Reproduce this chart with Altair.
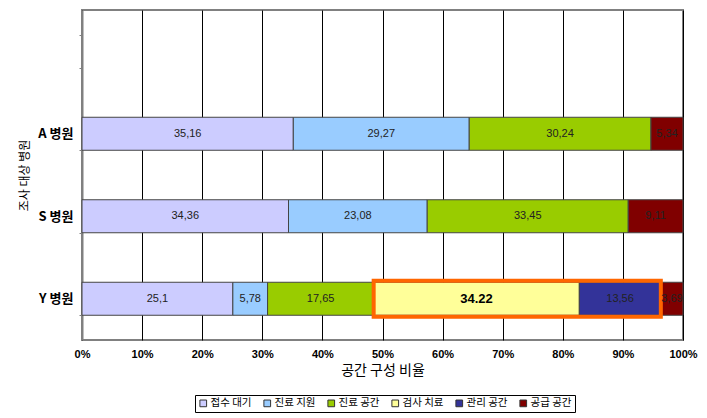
import altair as alt
import pandas as pd

hospitals = ["A 병원", "S 병원", "Y 병원"]
categories = ["접수 대기", "진료 지원", "진료 공간", "검사 치료", "관리 공간", "공급 공간"]
colors = ["#CCCCFF", "#99CCFF", "#99CC00", "#FFFF99", "#333399", "#800000"]

a_values = [35.16, 29.27, 30.24, 0, 0, 5.34]
s_values = [34.36, 23.08, 33.45, 0, 0, 9.11]
y_values = [25.1, 5.78, 17.65, 34.22, 13.56, 3.69]

highlight_hospital = "Y 병원"
highlight_cats = ["검사 치료", "관리 공간"]

rows = []
for h, vals in zip(hospitals, [a_values, s_values, y_values]):
    for i, (c, v) in enumerate(zip(categories, vals)):
        if v <= 0:
            continue
        hl = (h == highlight_hospital and c == "검사 치료")
        label = f"{v:g}" if hl else f"{v:g}".replace(".", ",")
        rows.append({"hospital": h, "cat": c, "order": i, "value": v,
                     "label": label, "hl": hl})
df = pd.DataFrame(rows)

y_domain = [" "] + hospitals

base = alt.Chart(df).transform_stack(
    stack="value", groupby=["hospital"], as_=["x0", "x1"],
    sort=[alt.SortField("order")]
).transform_calculate(mid="(datum.x0 + datum.x1) / 2")

yenc = alt.Y("hospital:N", scale=alt.Scale(domain=y_domain, paddingInner=0.6, paddingOuter=0.3),
             axis=alt.Axis(title="조사 대상 병원", titleFontSize=12, titleFont="Noto Sans CJK KR",
                           titleFontWeight="normal", titlePadding=6,
                           labelFont="Noto Sans CJK KR", labelFontSize=13, labelFontWeight="bold",
                           labelColor="#000", labelPadding=6, tickBand="extent", tickSize=3,
                           tickColor="#808080", domainColor="#808080", domainWidth=2, grid=False))

xscale = alt.Scale(domain=[0, 100], nice=False)
xaxis = alt.Axis(title="공간 구성 비율", titleFont="Noto Sans CJK KR", titleFontSize=14,
                 titleFontWeight="normal", titlePadding=4,
                 values=list(range(0, 101, 10)), labelExpr="datum.value + '%'",
                 labelFont="Liberation Sans", labelFontSize=11, labelFontWeight="bold",
                 labelColor="#000", labelPadding=8, ticks=False, domain=False,
                 grid=True, gridColor="#000", gridWidth=1, labelFlush=False)

bars = base.mark_bar(stroke="#444", strokeWidth=1).encode(
    x=alt.X("x0:Q", scale=xscale, axis=xaxis),
    x2="x1:Q",
    y=yenc,
    color=alt.Color("cat:N", scale=alt.Scale(domain=categories, range=colors),
                    legend=alt.Legend(title=None, orient="none", legendX=113, legendY=385,
                                      direction="horizontal", columns=6,
                                      symbolType="square", symbolSize=45,
                                      symbolStrokeColor="#333", symbolStrokeWidth=1,
                                      labelFont="Noto Sans CJK KR", labelFontSize=10.5,
                                      labelColor="#000", columnPadding=9, labelOffset=2,
                                      strokeColor="#000", padding=3, fillColor="#fff")),
)

box = base.transform_filter(
    alt.FieldOneOfPredicate(field="cat", oneOf=highlight_cats)
).transform_filter(
    alt.datum.hospital == highlight_hospital
).transform_aggregate(
    start="min(x0)", end="max(x1)", groupby=["hospital"]
).mark_bar(fillOpacity=0, stroke="#FF6600", strokeWidth=4, height=36).encode(
    x="start:Q", x2="end:Q", y=alt.Y("hospital:N"),
)

text = base.mark_text(font="Liberation Sans", fontSize=11, color="#222").encode(
    x="mid:Q", y=alt.Y("hospital:N"), text="label:N",
).transform_filter("!datum.hl")

text_hl = base.mark_text(font="Liberation Sans", fontSize=13, fontWeight="bold", color="#000").encode(
    x="mid:Q", y=alt.Y("hospital:N"), text="label:N",
).transform_filter("datum.hl")

chart = alt.layer(bars, box, text, text_hl).properties(
    width=601, height=330,
    padding={"left": 82, "top": 10, "right": 24, "bottom": 78},
    autosize=alt.AutoSizeParams(type="none"),
    background="#fff",
).configure_view(stroke="#808080", strokeWidth=2)

chart.save("out.html", embed_options={"renderer": "svg", "actions": False})
